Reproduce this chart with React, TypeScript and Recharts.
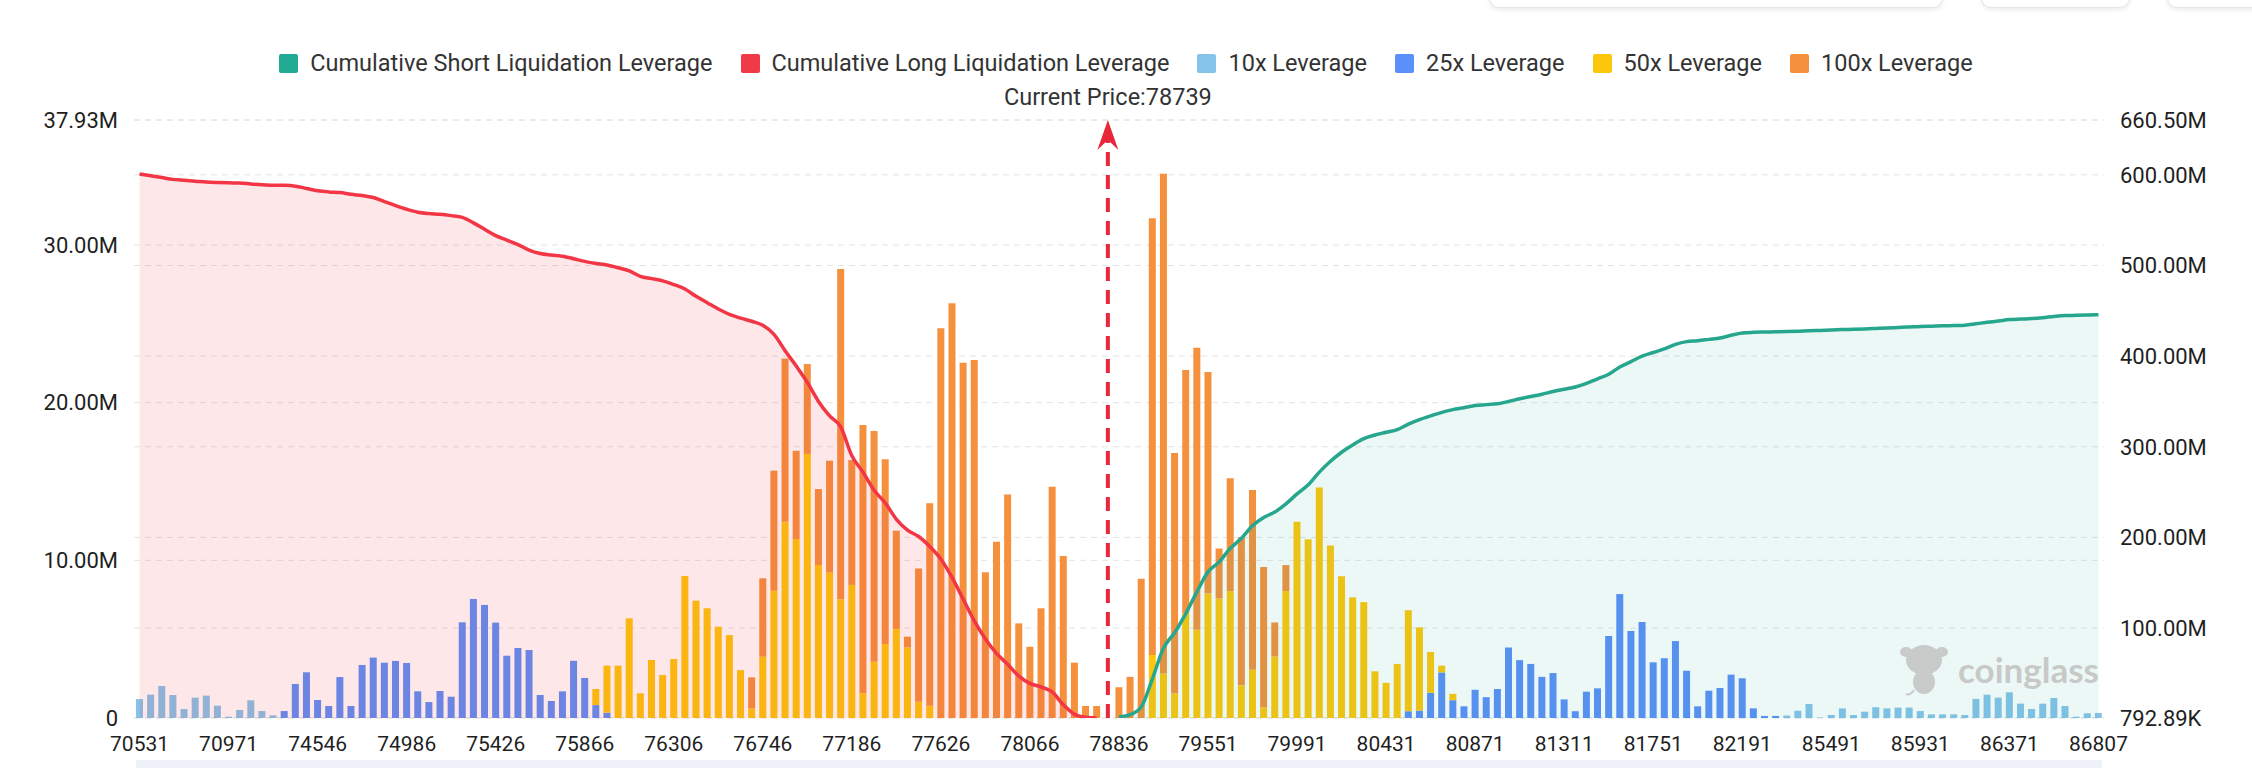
import React from "react";
import { Area, Bar, CartesianGrid, ComposedChart, ReferenceLine, XAxis, YAxis } from "recharts";

const W = 2252;
const H = 768;
const FONT = "Roboto, 'Noto Sans', sans-serif";

// price levels on the x axis: one label every 8 levels
const TICK_PRICES = [
  "70531", "70971", "74546", "74986", "75426", "75866", "76306", "76746", "77186", "77626", "78066",
  "78836", "79551", "79991", "80431", "80871", "81311", "81751", "82191", "85491", "85931", "86371", "86807",
];
const LEVEL_COUNT = 177;
const CURRENT_IDX = 87;
const CURRENT_PRICE = "78739";

// liquidation volume per price level, in M (left axis). [first level, values]
const LEV10: [number, number[]][] = [
  [0, [1.2, 1.48, 2.03, 1.46, 0.57, 1.29, 1.42, 0.78, 0.08, 0.51, 1.12, 0.44, 0.17]],
  [148, [0.15, 0.46, 0.89, 0.02, 0.19, 0.61, 0.19, 0.4, 0.68, 0.61, 0.66, 0.66, 0.44, 0.23, 0.23,
    0.23, 0.19, 1.21, 1.48, 1.29, 1.63, 0.91, 0.57, 0.91, 1.27, 0.76, 0.08, 0.3, 0.32]],
];
const LEV25: [number, number[]][] = [
  [13, [0.44, 2.16, 2.9, 1.14, 0.76, 2.6, 0.76, 3.36, 3.83, 3.51, 3.62, 3.49, 1.69, 1.01, 1.71,
    1.35, 6.07, 7.55, 7.17, 6.05, 3.95, 4.44, 4.31, 1.46, 1.08, 1.69, 3.63, 2.54, 0.82, 0.34]],
  [114, [0.43, 0.47, 1.6, 2.89, 1.13]],
  [119, [0.74, 1.79, 1.32, 1.84, 4.47, 3.67, 3.43, 2.61, 2.85, 1.18, 0.43, 1.67, 1.88, 5.2, 7.86,
    5.52, 6.09, 3.53, 3.79, 4.88, 3.0, 0.74, 1.73, 1.9, 2.75, 2.52, 0.61, 0.13, 0.13]],
];
const LEV50: [number, number[]][] = [
  [41, [1.02, 2.98, 3.32, 6.32, 1.57, 3.68, 2.73, 3.74, 9.01, 7.44, 6.96, 5.79, 5.26, 3.04,
    0.61, 3.89, 8.07, 12.45, 11.35, 16.75, 9.7, 9.22, 7.53, 8.44, 1.57, 3.57, 4.69, 5.65, 4.48, 1.03, 0.78]],
  [91, [4.0, 2.82, 1.55, 6.65, 5.59, 7.89, 7.58, 8.05, 2.07, 3.06, 0.67, 3.9, 8.05,
    12.44, 11.34, 14.62, 10.94, 8.99, 7.65, 7.35, 2.96, 2.23, 3.43, 6.41, 5.28, 2.59, 0.43, 0.4]],
];
const LEV100: [number, number[]][] = [
  [55, [1.97, 4.97, 7.62, 10.36, 5.6, 5.7, 4.82, 7.1, 20.95, 7.92, 17.01, 14.63, 11.72, 6.23, 0.68,
    8.46, 12.84, 24.72, 26.3, 22.54, 22.71, 9.24, 11.18, 14.18, 6.0, 4.52, 6.96, 14.67, 10.28, 3.51, 0.76, 0.76]],
  [88, [1.95, 2.61, 8.83, 27.7, 31.7, 15.26, 15.42, 17.9, 14.06, 3.17, 7.16, 9.39, 11.4, 8.91, 2.16, 1.65]],
];

// cumulative liquidation leverage, in M (right axis)
const LONG_CUM: [number, number[]][] = [
  [0, [601, 599, 597, 595, 594, 593, 592, 591.5, 591.2, 591, 590, 589, 588.6, 588.4, 587.5, 585, 582.5,
    581.2, 580.5, 578.5, 577.2, 575, 570.5, 566, 562, 558.8, 557.3, 556.5, 555, 553, 547, 540, 533, 528,
    523, 517, 513.2, 511.5, 510.2, 507.5, 504.5, 502.3, 500.5, 497.5, 494, 488, 485.5, 483, 479, 474,
    466, 459, 452, 446, 442, 438.5, 434, 424, 406, 389, 371, 350, 334, 322, 290, 272, 252, 238, 220,
    208, 201, 190, 176, 156, 132, 108, 88, 72, 60, 47, 39, 35, 29.5, 15.3, 5, 1.5, 0.79289]],
];
const SHORT_CUM: [number, number[]][] = [
  [88, [2, 4.5, 13, 44, 78, 95, 116, 140, 162, 173, 188, 199, 213, 222, 228, 237, 248, 258, 272, 284,
    294, 302, 309, 313, 316, 319, 325, 330, 334, 338, 341, 343, 345.5, 346.5, 347.5, 350, 353, 355.5,
    358, 361, 363.5, 366, 370, 375, 380, 388, 394, 400, 404, 408, 413, 416, 417, 418.5, 420, 423,
    425.5, 426.3, 426.6, 426.8, 427.1, 427.5, 428.1, 428.4, 428.8, 429.3, 429.6, 430, 430.5, 431,
    431.6, 432.2, 432.8, 433.1, 433.4, 433.8, 434.2, 435.7, 437.3, 438.7, 440.3, 440.9, 441.4, 442.4,
    443.8, 444.8, 445, 445.3, 445.7]],
];

const LEFT_TICKS = [0, 10, 20, 30, 37.93];
const RIGHT_TICKS = [0.79289, 100, 200, 300, 400, 500, 600, 660.5];

const C = {
  short: "#26a68d",
  long: "#f23645",
  x10: "#86c3ea",
  x25: "#5b8ff9",
  x50: "#fdc60a",
  x100: "#f5903c",
  grid: "#e4e4e4",
  text: "#1f1f1f",
};

const LEGEND = [
  { name: "Cumulative Short Liquidation Leverage", color: "#22ab94" },
  { name: "Cumulative Long Liquidation Leverage", color: "#ef3a48" },
  { name: "10x Leverage", color: C.x10 },
  { name: "25x Leverage", color: C.x25 },
  { name: "50x Leverage", color: C.x50 },
  { name: "100x Leverage", color: C.x100 },
];

function spread(segs: [number, number[]][], empty: number | null) {
  const out: (number | null)[] = new Array(LEVEL_COUNT).fill(empty);
  segs.forEach(([start, vals]) => vals.forEach((v, k) => (out[start + k] = v)));
  return out;
}

const l10 = spread(LEV10, 0), l25 = spread(LEV25, 0), l50 = spread(LEV50, 0), l100 = spread(LEV100, 0);
const longCum = spread(LONG_CUM, null), shortCum = spread(SHORT_CUM, null);
const data = l10.map((_, i) => ({
  idx: i,
  x10: l10[i], x25: l25[i], x50: l50[i], x100: l100[i],
  long: longCum[i], short: shortCum[i],
}));

const tick = { fill: C.text, fontSize: 21, fontFamily: FONT };
const ytick = { ...tick, fontSize: 22 };
const fmtLeft = (v: number) => (v === 0 ? "0" : `${v.toFixed(2)}M`);
const fmtRight = (v: number) => (v < 1 ? `${(v * 1000).toFixed(2)}K` : `${v.toFixed(2)}M`);

function PriceMark(props: any) {
  const vb = props.viewBox || {};
  const x = vb.x, y = vb.y;
  if (x === undefined) return null;
  return (
    <g>
      <path d={`M${x},${y} L${x + 10.5},${y + 30} L${x},${y + 20} L${x - 10.5},${y + 30} Z`} fill="#e8283a" />
      <text x={x} y={y - 23} dy="0.35em" textAnchor="middle" fill="#333" fontSize={23.5} fontFamily={FONT}>
        {`Current Price:${CURRENT_PRICE}`}
      </text>
    </g>
  );
}

export default function App() {
  return (
    <div style={{ position: "fixed", left: 0, top: 0, width: W, height: H, background: "#fff", overflow: "hidden" }}>
      {/* cut-off toolbar buttons at the very top */}
      {[[1489, 452], [1981, 147], [2167, 120]].map(([l, w], i) => (
        <div key={i} style={{
          position: "absolute", left: l, top: -30, width: w, height: 36, borderRadius: 10,
          border: "1px solid #e3e5e8", boxShadow: "0 2px 4px rgba(0,0,0,0.08)", background: "#fff",
        }} />
      ))}

      <div style={{
        position: "absolute", left: 0, right: 0, top: 52, display: "flex", justifyContent: "center",
        gap: 28, fontFamily: FONT, fontSize: 23.5, color: "#333", lineHeight: "22px",
      }}>
        {LEGEND.map((it) => (
          <div key={it.name} style={{ display: "flex", alignItems: "center", gap: 12 }}>
            <span style={{ width: 19, height: 19, background: it.color, borderRadius: 2, display: "inline-block" }} />
            <span>{it.name}</span>
          </div>
        ))}
      </div>

      <div style={{ position: "absolute", left: 0, top: 0 }}>
        <ComposedChart width={W} height={H} data={data} margin={{ top: 120, right: 28, bottom: 10, left: 34 }}>
          <CartesianGrid yAxisId="left" vertical={false} stroke={C.grid} strokeDasharray="6 5" />
          <CartesianGrid yAxisId="right" vertical={false} stroke={C.grid} strokeDasharray="6 5" />
          <XAxis dataKey="idx" type="category" interval={7} height={40} tickSize={0} tickMargin={18}
            axisLine={false} tickLine={false} tick={tick}
            tickFormatter={(i: number) => (i % 8 === 0 ? TICK_PRICES[i / 8] : "")} />
          <YAxis yAxisId="left" width={100} domain={[0, 37.93]} ticks={LEFT_TICKS} tickFormatter={fmtLeft}
            axisLine={false} tickLine={false} tickSize={0} tickMargin={16} tick={ytick} allowDataOverflow />
          <YAxis yAxisId="right" orientation="right" width={120} domain={[0.79289, 660.5]} ticks={RIGHT_TICKS}
            tickFormatter={fmtRight} axisLine={false} tickLine={false} tickSize={0} tickMargin={16}
            tick={{ ...ytick, textAnchor: "start" }} allowDataOverflow />

          <Bar yAxisId="left" dataKey="x10" stackId="lev" fill={C.x10} barSize={7} isAnimationActive={false} />
          <Bar yAxisId="left" dataKey="x25" stackId="lev" fill={C.x25} barSize={7} isAnimationActive={false} />
          <Bar yAxisId="left" dataKey="x50" stackId="lev" fill={C.x50} barSize={7} isAnimationActive={false} />
          <Bar yAxisId="left" dataKey="x100" stackId="lev" fill={C.x100} barSize={7} isAnimationActive={false} />

          <Area yAxisId="right" dataKey="long" type="monotone" stroke={C.long} strokeWidth={3.5}
            fill="rgba(242,54,69,0.12)" fillOpacity={1} dot={false} activeDot={false}
            isAnimationActive={false} zIndex={350} />
          <Area yAxisId="right" dataKey="short" type="monotone" stroke={C.short} strokeWidth={3.5}
            fill="rgba(34,171,148,0.085)" fillOpacity={1} dot={false} activeDot={false}
            isAnimationActive={false} zIndex={350} />

          <ReferenceLine yAxisId="left" x={CURRENT_IDX} stroke="#e8283a" strokeWidth={4} strokeDasharray="14 9"
            label={(p: any) => <PriceMark {...p} />} />
        </ComposedChart>
      </div>

      {/* watermark */}
      <div style={{ position: "absolute", left: 1900, top: 640, display: "flex", alignItems: "center", gap: 10, opacity: 0.9 }}>
        <svg width={48} height={58} viewBox="0 0 48 58">
          <ellipse cx={24} cy={20} rx={18} ry={15} fill="#c6c6c6" />
          <ellipse cx={6} cy={12} rx={6} ry={5} fill="#c6c6c6" />
          <ellipse cx={42} cy={12} rx={6} ry={5} fill="#c6c6c6" />
          <ellipse cx={24} cy={42} rx={11} ry={12} fill="#c6c6c6" />
          <path d="M14 50 Q10 56 6 54" stroke="#c6c6c6" strokeWidth={2} fill="none" />
        </svg>
        <span style={{ fontFamily: "Lato, sans-serif", fontWeight: 700, fontSize: 35, color: "#c4c4c4" }}>coinglass</span>
      </div>

      <div style={{ position: "absolute", left: 136, top: 760, width: 1966, height: 8, background: "#eef1f8" }} />
    </div>
  );
}
